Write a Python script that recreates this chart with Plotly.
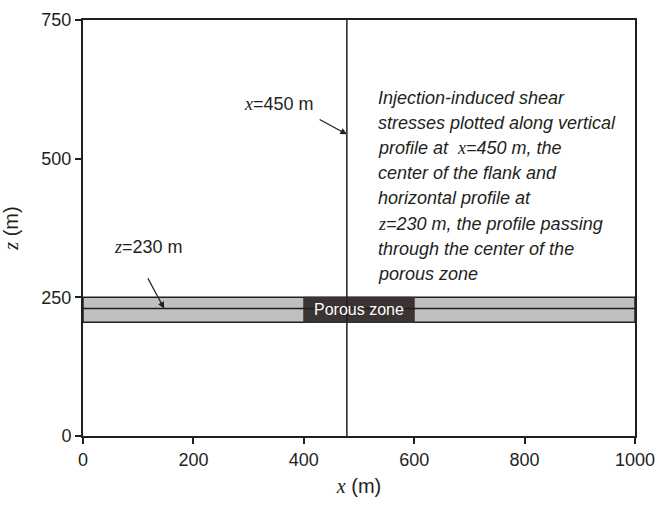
import plotly.graph_objects as go

# ---- data ----
x_range = [0, 1000]
z_range = [0, 750]
x_ticks = [0, 200, 400, 600, 800, 1000]
z_ticks = [0, 250, 500, 750]
layer_bottom = 205
layer_top = 250
profile_z = 230           # horizontal profile
profile_x = 478           # vertical profile (as drawn)
porous_x = [400, 600]     # porous zone extent
porous_label = "Porous zone"
serif_x = '<span style="font-family:Liberation Serif"><i>x</i></span>'
serif_z = '<span style="font-family:Liberation Serif"><i>z</i></span>'
note_lines = [
    "Injection-induced shear",
    "stresses plotted along vertical",
    f"profile at  {serif_x}=450 m, the",
    "center of the flank and",
    "horizontal profile at",
    f"{serif_z}=230 m, the profile passing",
    "through the center of the",
    "porous zone",
]

DARK = "#231f20"
GRAY = "#c0c0c0"
BOX = "#3a3432"

fig = go.Figure()

# gray layer band
fig.add_trace(go.Scatter(
    x=[x_range[0], x_range[1], x_range[1], x_range[0], x_range[0]],
    y=[layer_bottom, layer_bottom, layer_top, layer_top, layer_bottom],
    fill="toself", fillcolor=GRAY, mode="lines",
    line=dict(color=DARK, width=1.5), hoverinfo="skip", showlegend=False))
# porous zone box
fig.add_trace(go.Scatter(
    x=[porous_x[0], porous_x[1], porous_x[1], porous_x[0], porous_x[0]],
    y=[layer_bottom, layer_bottom, layer_top, layer_top, layer_bottom],
    fill="toself", fillcolor=BOX, mode="lines",
    line=dict(color=BOX, width=1), hoverinfo="skip", showlegend=False))
# horizontal profile line
fig.add_trace(go.Scatter(x=x_range, y=[profile_z, profile_z], mode="lines",
                         line=dict(color=DARK, width=1.5), showlegend=False))
# vertical profile line
fig.add_trace(go.Scatter(x=[profile_x, profile_x], y=z_range, mode="lines",
                         line=dict(color=DARK, width=1.5), showlegend=False))

font_main = "Liberation Sans, Arial, sans-serif"

# porous zone label
fig.add_annotation(x=sum(porous_x) / 2, y=(layer_bottom + layer_top) / 2,
                   text=porous_label, showarrow=False,
                   font=dict(family=font_main, size=16, color="white"))

# x=450 m label with arrow
fig.add_annotation(x=profile_x, y=544, ax=426, ay=572, axref="x", ayref="y",
                   text="", showarrow=True, arrowhead=2, arrowsize=1,
                   arrowwidth=1.3, arrowcolor=DARK)
fig.add_annotation(x=422, y=598, xanchor="right", showarrow=False,
                   text=f"{serif_x}=450 m",
                   font=dict(family=font_main, size=18, color=DARK))

# z=230 m label with arrow
fig.add_annotation(x=147, y=profile_z, ax=116, ay=287, axref="x", ayref="y",
                   text="", showarrow=True, arrowhead=2, arrowsize=1,
                   arrowwidth=1.3, arrowcolor=DARK)
fig.add_annotation(x=53, y=340, xanchor="left", showarrow=False,
                   text=f"{serif_z}=230 m",
                   font=dict(family=font_main, size=18, color=DARK))

# note text block
for i, line in enumerate(note_lines):
    fig.add_annotation(x=530, y=610, xanchor="left", yanchor="middle",
                       yshift=-25.2 * i, showarrow=False,
                       text=f"<i>{line}</i>",
                       font=dict(family=font_main, size=18, color=DARK))

axis_common = dict(
    showgrid=False, zeroline=False, showline=True, linecolor=DARK,
    linewidth=2, mirror=True, ticks="outside", ticklen=6, tickwidth=1.5,
    tickcolor=DARK, tickfont=dict(family=font_main, size=18, color=DARK),
    automargin=False,
)

fig.update_layout(
    width=659, height=507,
    margin=dict(l=83, r=24, t=20, b=71),
    paper_bgcolor="white", plot_bgcolor="white",
    xaxis=dict(range=x_range, tickvals=x_ticks,
               title=dict(text=f"{serif_x} (m)", standoff=10,
                          font=dict(family=font_main, size=20, color=DARK)),
               **axis_common),
    yaxis=dict(range=z_range, tickvals=z_ticks,
               title=dict(text=f"{serif_z} (m)", standoff=18,
                          font=dict(family=font_main, size=20, color=DARK)),
               **axis_common),
)

fig.write_html("out.html")
